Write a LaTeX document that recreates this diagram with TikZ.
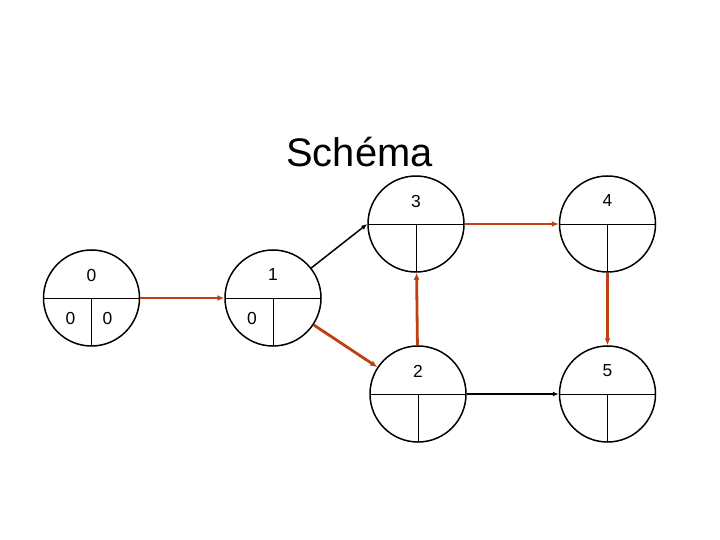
\documentclass[tikz,border=0pt]{standalone}
\usepackage{fontspec}
\setmainfont{Liberation Sans}
\usetikzlibrary{arrows.meta}
\definecolor{critical}{RGB}{190,64,18}

\begin{document}
\begin{tikzpicture}
  [x=1bp,y=-1bp,
   event/.style={circle,draw,line width=1.5bp,minimum size=96bp,inner sep=0pt,
     path picture={
       \draw[line width=.8bp] (path picture bounding box.west) -- (path picture bounding box.east);
       \draw[line width=.8bp] (path picture bounding box.center) -- (path picture bounding box.south);}},
   num/.style={font=\fontsize{17.5}{20}\selectfont,inner sep=0pt},
   crit/.style={draw=critical,line width=2.8bp,-{Latex[length=7bp,width=6bp]}},
   plain/.style={draw=black,line width=1.5bp,-{Latex[length=6bp,width=5bp]}}]
  \useasboundingbox (0,0) rectangle (720,540);
  \node[font=\fontsize{40}{44}\selectfont,anchor=base,inner sep=0pt] (title) at (359.5,167) {Schéma};
  \foreach \n/\x/\y/\t/\l/\r in {0/91.5/298/0/0/0, 1/273/298/1/0/, 2/418/394/2//,
                                 3/416/224/3//, 4/607.5/224/4//, 5/607.5/394/5//}
  {
    \node[event] (n\n) at (\x,\y) {};
    \node[num] (n\n t) at (\x,\y-23) {\t};
    \node[num] (n\n l) at (\x-21,\y+20) {\l};
    \node[num] (n\n r) at (\x+16,\y+20) {\r};
  }
  \foreach \from/\to in {n0.east/n1.west,n1/n2,n2/n3,n3.east/n4.west,n4/n5}
    \draw[crit] (\from) -- (\to);
  \foreach \from/\to in {n1/n3.west,n2.east/n5.west}
    \draw[plain] (\from) -- (\to);
\end{tikzpicture}
\end{document}
